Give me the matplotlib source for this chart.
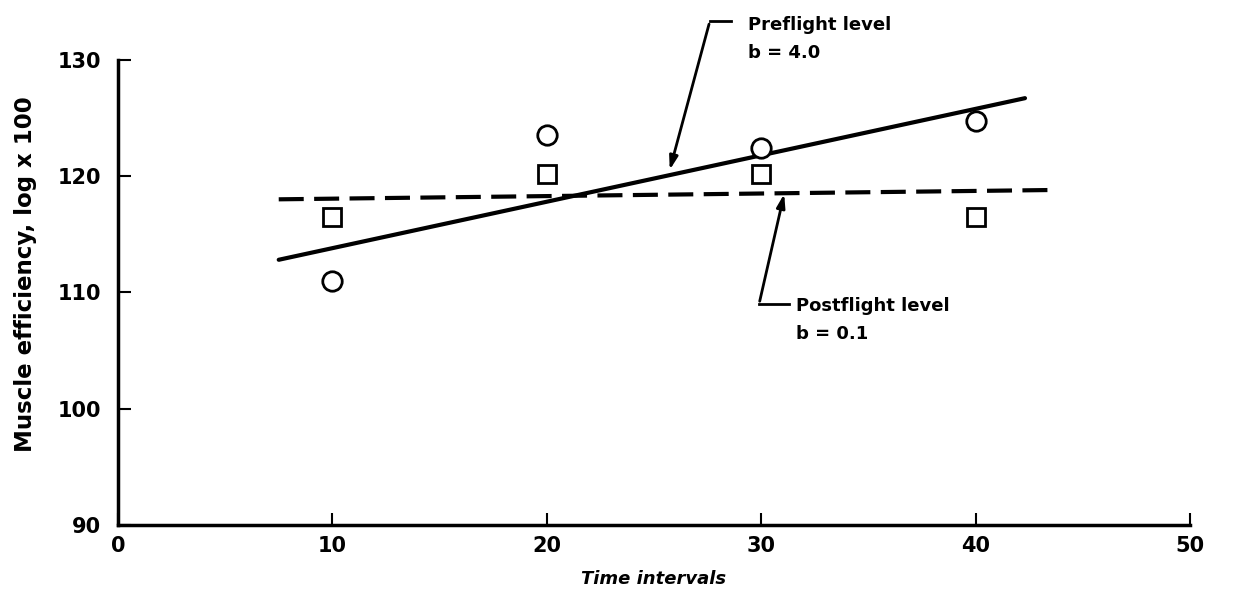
import matplotlib.pyplot as plt
import numpy as np

plt.rcParams["font.family"] = "DejaVu Sans"
plt.rcParams["font.weight"] = "bold"

# measured points
time_intervals = [10, 20, 30, 40]
preflight_pts = [111.0, 123.5, 122.4, 124.7]   # circles
postflight_pts = [116.5, 120.2, 120.2, 116.5]  # squares

# fitted lines (start/end)
pre_fit_x = [7.5, 42.3]
pre_fit_y = [112.8, 126.7]
post_fit_x = [7.5, 43.5]
post_fit_y = [118.0, 118.8]

xticks = [0, 10, 20, 30, 40, 50]
yticks = [90, 100, 110, 120, 130]


def main():
    fig = plt.figure(figsize=(12.41, 6.04), dpi=100)
    ax = fig.add_axes([0.095, 0.131, 0.864, 0.770])

    ax.plot(pre_fit_x, pre_fit_y, color="black", lw=3, solid_capstyle="round")
    ax.plot(post_fit_x, post_fit_y, color="black", lw=3, dashes=(6, 2.5))

    ax.plot(time_intervals, preflight_pts, "o", ms=14, mfc="white", mec="black", mew=2)
    ax.plot(time_intervals, postflight_pts, "s", ms=13, mfc="white", mec="black", mew=2)

    arrow = dict(arrowstyle="-|>,head_length=0.8,head_width=0.25", color="black", lw=2)

    # preflight annotation
    ax.plot([28.6, 27.6], [133.3, 133.3], color="black", lw=2, clip_on=False)
    ax.annotate("", xy=(25.7, 120.3), xytext=(27.6, 133.3), annotation_clip=False,
                arrowprops=arrow)
    ax.text(29.4, 133.0, "Preflight level", fontsize=13, va="center", ha="left", clip_on=False)
    ax.text(29.4, 130.6, "b = 4.0", fontsize=13, va="center", ha="left", clip_on=False)

    # postflight annotation
    ax.plot([31.3, 29.9], [109.0, 109.0], color="black", lw=2)
    ax.annotate("", xy=(31.1, 118.7), xytext=(29.9, 109.0), arrowprops=arrow)
    ax.text(31.6, 108.8, "Postflight level", fontsize=13, va="center", ha="left")
    ax.text(31.6, 106.4, "b = 0.1", fontsize=13, va="center", ha="left")

    ax.set_xlim(0, 50)
    ax.set_ylim(90, 130)
    ax.set_xticks(xticks)
    ax.set_yticks(yticks)
    ax.spines["top"].set_visible(False)
    ax.spines["right"].set_visible(False)
    ax.spines["left"].set_linewidth(2.5)
    ax.spines["bottom"].set_linewidth(2.5)
    ax.tick_params(direction="in", length=9, width=1.5, labelsize=15)
    ax.tick_params(axis="x", pad=8)
    ax.tick_params(axis="y", pad=12)

    ax.set_xlabel("Time intervals", fontsize=13, fontstyle="italic", fontweight="bold", labelpad=10)
    ax.set_ylabel("Muscle efficiency, log x 100", fontsize=16.5, fontweight="bold")
    ax.yaxis.set_label_coords(-0.075, 0.54)

    fig.savefig("out.png", dpi=100)


if __name__ == "__main__":
    main()
